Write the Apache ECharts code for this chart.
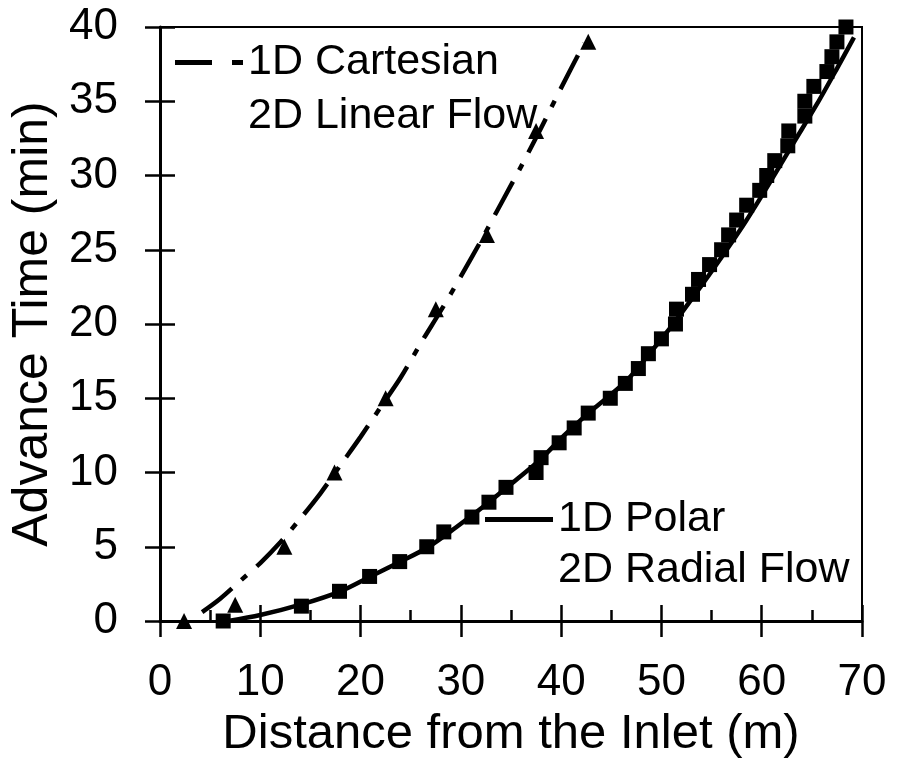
<!DOCTYPE html>
<html>
<head>
<meta charset="utf-8">
<script src="https://cdn.jsdelivr.net/npm/echarts@6/dist/echarts.min.js"></script>
<style>
  html, body { margin: 0; background: #fff; }
  #chart { width: 898px; height: 774px; }
</style>
</head>
<body>
<div id="chart"></div>
<script>
// 1D Cartesian model (dashed line)
const cartX = [4.2, 6, 8, 10, 12, 14, 16, 18, 20, 22, 24, 26, 28, 30, 32, 34, 36, 38, 40, 42.3];
const cartY = [0.6, 1.5, 2.7, 3.9, 5.3, 6.9, 8.6, 10.5, 12.4, 14.4, 16.4, 18.7, 20.9, 23.2, 25.6, 28.1, 30.6, 33.2, 35.9, 38.9];

// 2D linear flow (triangles)
const linearX = [2.4, 7.5, 12.4, 17.4, 22.5, 27.5, 32.6, 37.5, 42.7];
const linearY = [0, 1.1, 5, 10, 15, 21, 26, 33, 39];

// 1D Polar model (solid line)
const polarX = [6.8, 10, 14, 18, 21, 24, 26.8, 29.5, 32.8, 35.5, 37.8, 40.3, 42.9, 46.4, 48.8, 51.4, 54, 56.2, 58.4, 60.7, 63, 65.5, 67.5, 69.2];
const polarY = [0, 0.4, 1.1, 2.0, 3.0, 4.0, 5.0, 6.3, 8.0, 9.5, 10.8, 12.5, 14.1, 16.1, 18.0, 20.2, 22.6, 24.7, 26.9, 29.4, 32.0, 34.8, 37.2, 39.3];

// 2D radial flow (squares)
const radialX = [6.3, 14.1, 17.9, 20.9, 23.9, 26.6, 28.3, 31.1, 32.8, 34.5, 37.5, 38.0, 39.8, 41.3, 42.7,
  44.9, 46.4, 47.7, 48.7, 50.0, 51.4, 51.5, 53.1, 53.7, 54.8, 56.0, 56.7, 57.5, 58.5, 59.8,
  60.5, 61.3, 62.6, 62.7, 64.3, 64.3, 65.2, 66.5, 67.0, 67.5, 68.4];
const radialY = [0, 1, 2, 3, 4, 5, 6, 7, 8, 9, 10, 11, 12, 13, 14,
  15, 16, 17, 18, 19, 20, 21, 22, 23, 24, 25, 26, 27, 28, 29,
  30, 31, 32, 33, 34, 35, 36, 37, 38, 39, 40];

const FONT = "'Liberation Sans', Arial, sans-serif";
const pairs = (xs, ys) => xs.map((x, i) => [x, ys[i]]);

const chart = echarts.init(document.getElementById('chart'));

const tickStyle = { color: '#000', width: 2.5 };
// legend samples: long dash + short dash, and a plain bar
const dashIcon = 'path://M0,0h37v5h-37z M57,0h11v5h-11z';
const solidIcon = 'path://M0,0h68v5h-68z';

chart.setOption({
  backgroundColor: '#fff',
  animation: false,
  grid: {
    left: 160, right: 36, top: 27, bottom: 153,
    show: true, borderColor: '#000', borderWidth: 2,
    outerBoundsMode: 'none'
  },
  xAxis: [
    {
      type: 'value', min: 0, max: 70, interval: 10, position: 'bottom',
      name: 'Distance from the Inlet (m)',
      nameLocation: 'middle', nameGap: 72,
      nameTextStyle: { fontSize: 49, color: '#000', fontFamily: FONT },
      axisLine: { lineStyle: { color: '#000', width: 3 } },
      axisTick: { length: 16, lineStyle: tickStyle },
      axisLabel: { fontSize: 44, color: '#000', margin: 40, fontFamily: FONT },
      splitLine: { show: false }
    },
    {
      type: 'value', min: 0, max: 70, interval: 10, position: 'bottom',
      axisLine: { show: false },
      axisTick: { inside: true, length: 16, lineStyle: tickStyle },
      minorTick: { show: true, splitNumber: 2, length: 11, lineStyle: tickStyle },
      axisLabel: { show: false },
      splitLine: { show: false }
    }
  ],
  yAxis: [
    {
      type: 'value', min: 0, max: 40, interval: 5, position: 'left',
      name: 'Advance Time (min)',
      nameLocation: 'middle', nameGap: 84,
      nameTextStyle: { fontSize: 50, color: '#000', fontFamily: FONT },
      axisLine: { lineStyle: { color: '#000', width: 3 } },
      axisTick: { length: 15, lineStyle: tickStyle },
      axisLabel: { fontSize: 44, color: '#000', margin: 42, fontFamily: FONT },
      splitLine: { show: false }
    },
    {
      type: 'value', min: 0, max: 40, interval: 5, position: 'left',
      axisLine: { show: false },
      axisTick: { inside: true, length: 15, lineStyle: tickStyle },
      axisLabel: { show: false },
      splitLine: { show: false }
    }
  ],
  legend: [
    {
      left: 175, top: 41, orient: 'vertical', padding: 0,
      itemWidth: 68, itemHeight: 5, itemGap: 11, selectedMode: false,
      textStyle: { fontSize: 43, color: '#000', fontFamily: FONT },
      data: [{ name: '1D Cartesian', icon: dashIcon }, { name: '2D Linear Flow', icon: 'none' }]
    },
    {
      left: 485, top: 498, orient: 'vertical', padding: 0,
      itemWidth: 68, itemHeight: 5, itemGap: 8, selectedMode: false,
      textStyle: { fontSize: 43, color: '#000', fontFamily: FONT },
      data: [{ name: '1D Polar', icon: solidIcon }, { name: '2D Radial Flow', icon: 'none' }]
    }
  ],
  series: [
    {
      name: '1D Cartesian', type: 'line', smooth: 0.3,
      symbol: 'none', showSymbol: false,
      lineStyle: { color: '#000', width: 4.5, type: [38, 13, 7, 13] },
      itemStyle: { color: '#000' },
      data: pairs(cartX, cartY)
    },
    {
      name: '2D Linear Flow', type: 'scatter',
      symbol: 'triangle', symbolSize: 16,
      itemStyle: { color: '#000', opacity: 1 },
      data: pairs(linearX, linearY)
    },
    {
      name: '1D Polar', type: 'line', smooth: 0.3,
      symbol: 'none', showSymbol: false,
      lineStyle: { color: '#000', width: 4.5 },
      itemStyle: { color: '#000' },
      data: pairs(polarX, polarY)
    },
    {
      name: '2D Radial Flow', type: 'scatter',
      symbol: 'rect', symbolSize: 15,
      itemStyle: { color: '#000', opacity: 1 },
      data: pairs(radialX, radialY)
    }
  ]
});
</script>
</body>
</html>
